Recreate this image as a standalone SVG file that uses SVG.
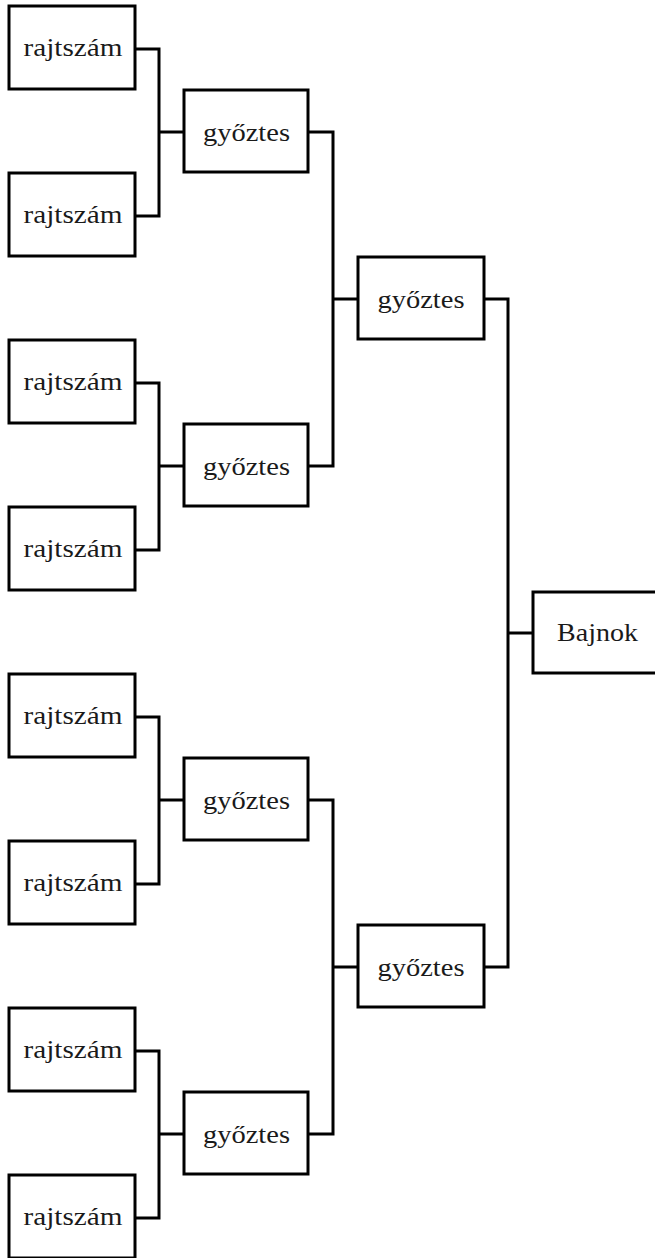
<svg xmlns="http://www.w3.org/2000/svg" width="655" height="1258" viewBox="0 0 655 1258">
<style>
.box{fill:#fff;stroke:#000;stroke-width:3}
.t{font-family:"Liberation Serif","Times New Roman",serif;font-size:26px;fill:#1a1a1a;text-anchor:middle}
.c{fill:none;stroke:#000;stroke-width:3;stroke-linejoin:miter;stroke-linecap:butt}
</style>
<rect width="655" height="1258" fill="#fff"/>
<g id="connectors">
<path class="c" d="M135,49 H159 V216 H135 M159,132 H184"/>
<path class="c" d="M135,383 H159 V550 H135 M159,466 H184"/>
<path class="c" d="M135,717 H159 V884 H135 M159,800 H184"/>
<path class="c" d="M135,1051 H159 V1218 H135 M159,1134 H184"/>
<path class="c" d="M308,132 H333 V466 H308 M333,299 H358"/>
<path class="c" d="M308,800 H333 V1134 H308 M333,967 H358"/>
<path class="c" d="M484,299 H508 V967 H484 M508,633 H533"/>
</g>
<g id="r1"><rect class="box" x="9" y="6" width="126" height="83"/><text class="t" x="73" y="56" textLength="99" lengthAdjust="spacingAndGlyphs">rajtszám</text></g>
<g id="r2"><rect class="box" x="9" y="173" width="126" height="83"/><text class="t" x="73" y="223" textLength="99" lengthAdjust="spacingAndGlyphs">rajtszám</text></g>
<g id="r3"><rect class="box" x="9" y="340" width="126" height="83"/><text class="t" x="73" y="390" textLength="99" lengthAdjust="spacingAndGlyphs">rajtszám</text></g>
<g id="r4"><rect class="box" x="9" y="507" width="126" height="83"/><text class="t" x="73" y="557" textLength="99" lengthAdjust="spacingAndGlyphs">rajtszám</text></g>
<g id="r5"><rect class="box" x="9" y="674" width="126" height="83"/><text class="t" x="73" y="724" textLength="99" lengthAdjust="spacingAndGlyphs">rajtszám</text></g>
<g id="r6"><rect class="box" x="9" y="841" width="126" height="83"/><text class="t" x="73" y="891" textLength="99" lengthAdjust="spacingAndGlyphs">rajtszám</text></g>
<g id="r7"><rect class="box" x="9" y="1008" width="126" height="83"/><text class="t" x="73" y="1058" textLength="99" lengthAdjust="spacingAndGlyphs">rajtszám</text></g>
<g id="r8"><rect class="box" x="9" y="1175" width="126" height="83"/><text class="t" x="73" y="1225" textLength="99" lengthAdjust="spacingAndGlyphs">rajtszám</text></g>
<g id="g1"><rect class="box" x="184" y="90" width="124" height="82"/><text class="t" x="246.5" y="141" textLength="87" lengthAdjust="spacingAndGlyphs">győztes</text></g>
<g id="g2"><rect class="box" x="184" y="424" width="124" height="82"/><text class="t" x="246.5" y="475" textLength="87" lengthAdjust="spacingAndGlyphs">győztes</text></g>
<g id="g3"><rect class="box" x="184" y="758" width="124" height="82"/><text class="t" x="246.5" y="809" textLength="87" lengthAdjust="spacingAndGlyphs">győztes</text></g>
<g id="g4"><rect class="box" x="184" y="1092" width="124" height="82"/><text class="t" x="246.5" y="1143" textLength="87" lengthAdjust="spacingAndGlyphs">győztes</text></g>
<g id="s1"><rect class="box" x="358" y="257" width="126" height="82"/><text class="t" x="421" y="308" textLength="87" lengthAdjust="spacingAndGlyphs">győztes</text></g>
<g id="s2"><rect class="box" x="358" y="925" width="126" height="82"/><text class="t" x="421" y="976" textLength="87" lengthAdjust="spacingAndGlyphs">győztes</text></g>
<g id="champ"><rect class="box" x="533" y="592" width="130" height="81"/><text class="t" x="597.5" y="641" textLength="81" lengthAdjust="spacingAndGlyphs">Bajnok</text></g>
</svg>
